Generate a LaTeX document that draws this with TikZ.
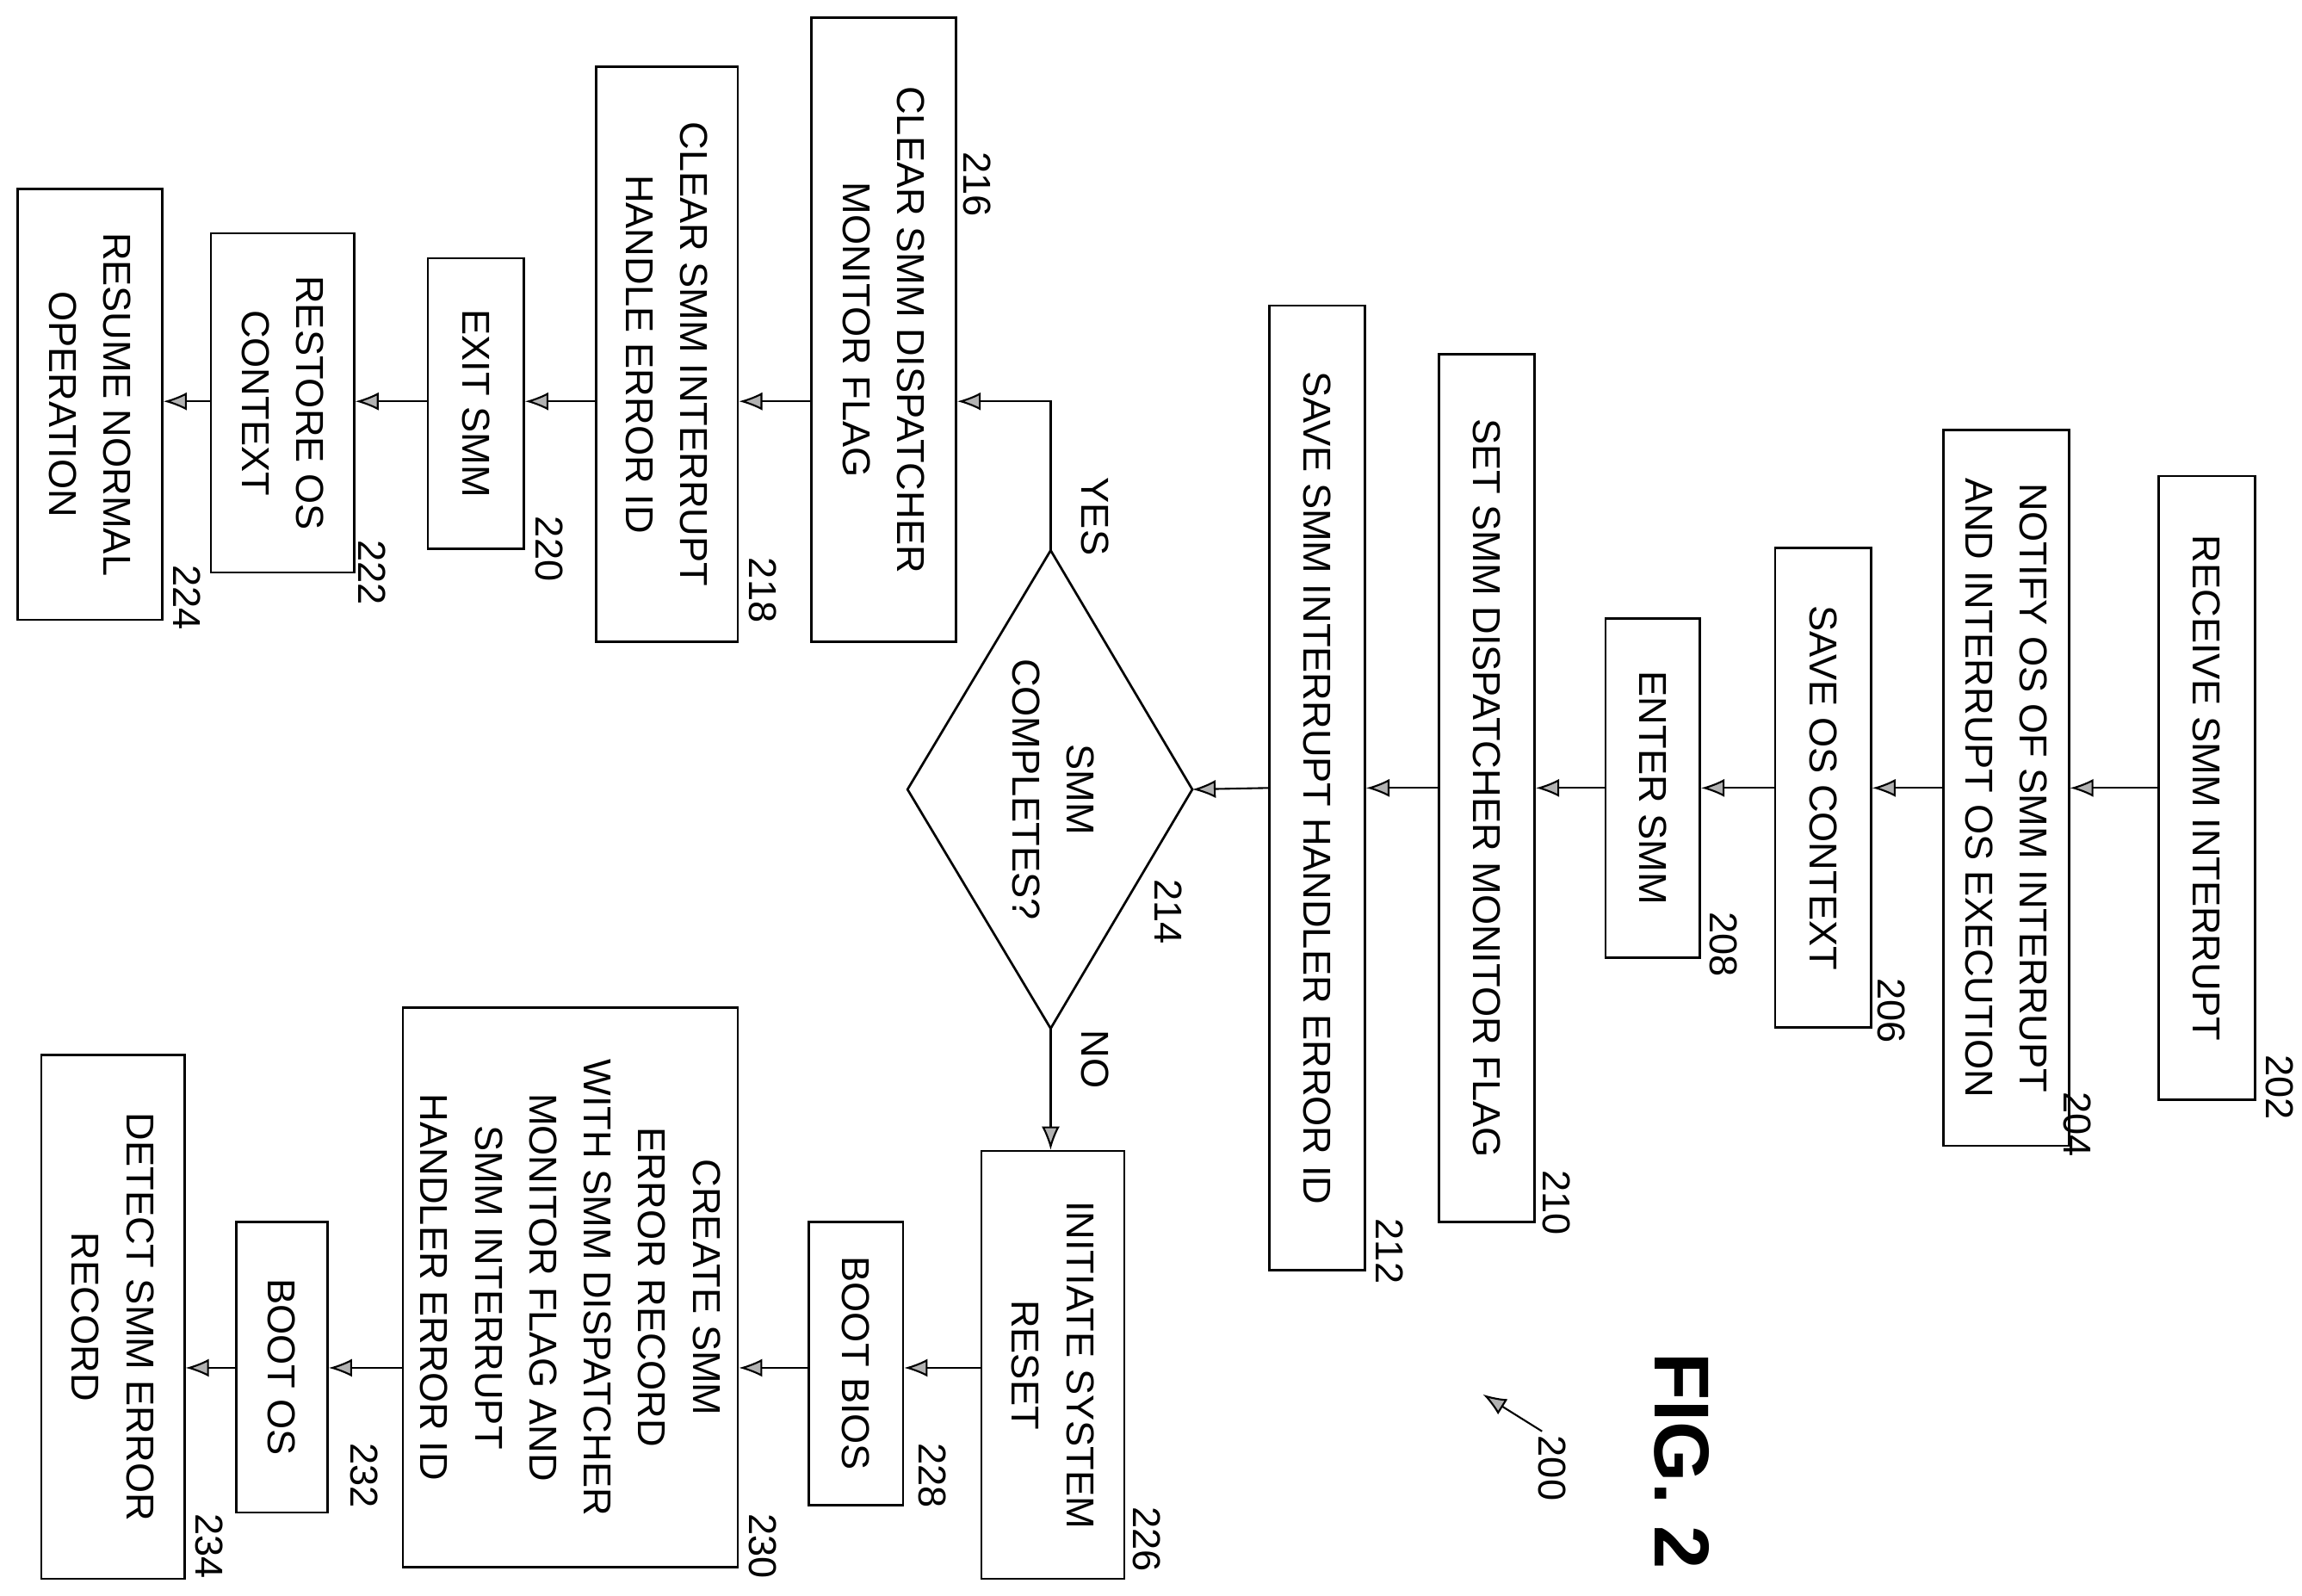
\documentclass[tikz,border=0pt]{standalone}
\usepackage{fontspec}
\setmainfont{Liberation Sans}
\usetikzlibrary{arrows.meta}
\begin{document}
\begin{tikzpicture}[x=0.02cm,y=-0.02cm,
  box/.style={draw,line width=0.9pt,rotate=-90,inner sep=0pt,align=center,font=\fontsize{15}{21}\selectfont},
  lab/.style={rotate=-90,font=\fontsize{15}{18}\selectfont},
  arr/.style={line width=0.7pt,-{Latex[length=9pt,width=7pt,fill=gray!60]}}]
\useasboundingbox (0,0) rectangle (1560,1081.6);
\node[box,minimum height=1.3cm,minimum width=8.46cm] (n202) at (1495.5,534) {RECEIVE SMM INTERRUPT};
\node[box,minimum height=1.7cm,minimum width=9.7cm] (n204) at (1359.5,534) {NOTIFY OS OF SMM INTERRUPT\\AND INTERRUPT OS EXECUTION};
\node[box,minimum height=1.3cm,minimum width=6.5cm] (n206) at (1235.5,534) {SAVE OS CONTEXT};
\node[box,minimum height=1.28cm,minimum width=4.6cm] (n208) at (1120,534) {ENTER SMM};
\node[box,minimum height=1.3cm,minimum width=11.76cm] (n210) at (1007.5,534) {SET SMM DISPATCHER MONITOR FLAG};
\node[box,minimum height=1.3cm,minimum width=13.08cm] (n212) at (892.5,534) {SAVE SMM INTERRUPT HANDLER ERROR ID};
\node[lab] at (712,535) {\fontsize{15}{21}\selectfont\begin{tabular}{c}SMM\\COMPLETES?\end{tabular}};
\coordinate (dT) at (712,373); \coordinate (dB) at (712,697);
\coordinate (dL) at (615,535); \coordinate (dR) at (808,535);
\draw[line width=0.9pt] (dT) -- (dR) -- (dB) -- (dL) -- cycle;
\node[box,minimum height=1.96cm,minimum width=8.46cm] (n216) at (599,223.5) {CLEAR SMM DISPATCHER\\MONITOR FLAG};
\node[box,minimum height=1.92cm,minimum width=7.8cm] (n218) at (452,240) {CLEAR SMM INTERRUPT\\HANDLE ERROR ID};
\node[box,minimum height=1.3cm,minimum width=3.94cm] (n220) at (322.5,273.5) {EXIT SMM};
\node[box,minimum height=1.94cm,minimum width=4.6cm] (n222) at (191.5,273) {RESTORE OS\\CONTEXT};
\node[box,minimum height=1.96cm,minimum width=5.84cm] (n224) at (61,274) {RESUME NORMAL\\OPERATION};
\node[box,minimum height=1.94cm,minimum width=5.8cm] (n226) at (713.5,925) {INITIATE SYSTEM\\RESET};
\node[box,minimum height=1.28cm,minimum width=3.84cm] (n228) at (580,924) {BOOT BIOS};
\node[box,minimum height=4.54cm,minimum width=7.58cm] (n230) at (386.5,872.5) {CREATE SMM\\ERROR RECORD\\WITH SMM DISPATCHER\\MONITOR FLAG AND\\SMM INTERRUPT\\HANDLER ERROR ID};
\node[box,minimum height=1.24cm,minimum width=3.94cm] (n232) at (191,926.5) {BOOT OS};
\node[box,minimum height=1.94cm,minimum width=7.1cm] (n234) at (76.5,892.5) {DETECT SMM ERROR\\RECORD};
% main flow
\draw[arr] (n202.south) -- (n204.north);
\draw[arr] (n204.south) -- (n206.north);
\draw[arr] (n206.south) -- (n208.north);
\draw[arr] (n208.south) -- (n210.north);
\draw[arr] (n210.south) -- (n212.north);
\draw[arr] (n212.south) -- (dR);
\draw[arr] (dT) |- (n216.north |- 0,272);
\draw[arr] (dB) -- (dB |- n226.west);
\draw[arr] (n216.south |- 0,272) -- (n218.north |- 0,272);
\draw[arr] (n218.south |- 0,272) -- (n220.north |- 0,272);
\draw[arr] (n220.south |- 0,272) -- (n222.north |- 0,272);
\draw[arr] (n222.south |- 0,272) -- (n224.north |- 0,272);
\draw[arr] (n226.south |- 0,927) -- (n228.north |- 0,927);
\draw[arr] (n228.south |- 0,927) -- (n230.north |- 0,927);
\draw[arr] (n230.south |- 0,927) -- (n232.north |- 0,927);
\draw[arr] (n232.south |- 0,927) -- (n234.north |- 0,927);
\node[lab] (yes) at (742,350) {YES};
\node[lab] (no) at (742,718) {NO};
% reference numbers
\node[lab] (l202) at (1545,737) {202};
\node[lab] (l204) at (1408,762) {204};
\node[lab] (l206) at (1282,685) {206};
\node[lab] (l208) at (1168,640) {208};
\node[lab] (l210) at (1055,815) {210};
\node[lab] (l212) at (942,848) {212};
\node[lab] (l214) at (792,618) {214};
\node[lab] (l216) at (662,125) {216};
\node[lab] (l218) at (517,400) {218};
\node[lab] (l220) at (372,372) {220};
\node[lab] (l222) at (252,388) {222};
\node[lab] (l224) at (127,405) {224};
\node[lab] (l226) at (777,1043) {226};
\node[lab] (l228) at (632,1000) {228};
\node[lab] (l230) at (517,1048) {230};
\node[lab] (l232) at (247,1000) {232};
\node[lab] (l234) at (142,1048) {234};
\node[lab] (l200) at (1052,995) {200};
\coordinate (a200) at (1005,945);
\draw[arr] (1045,970) -- (a200);
\node[rotate=-90,font=\fontsize{30}{34}\selectfont\bfseries] (fig) at (1140,990) {FIG. 2};
\end{tikzpicture}
\end{document}
